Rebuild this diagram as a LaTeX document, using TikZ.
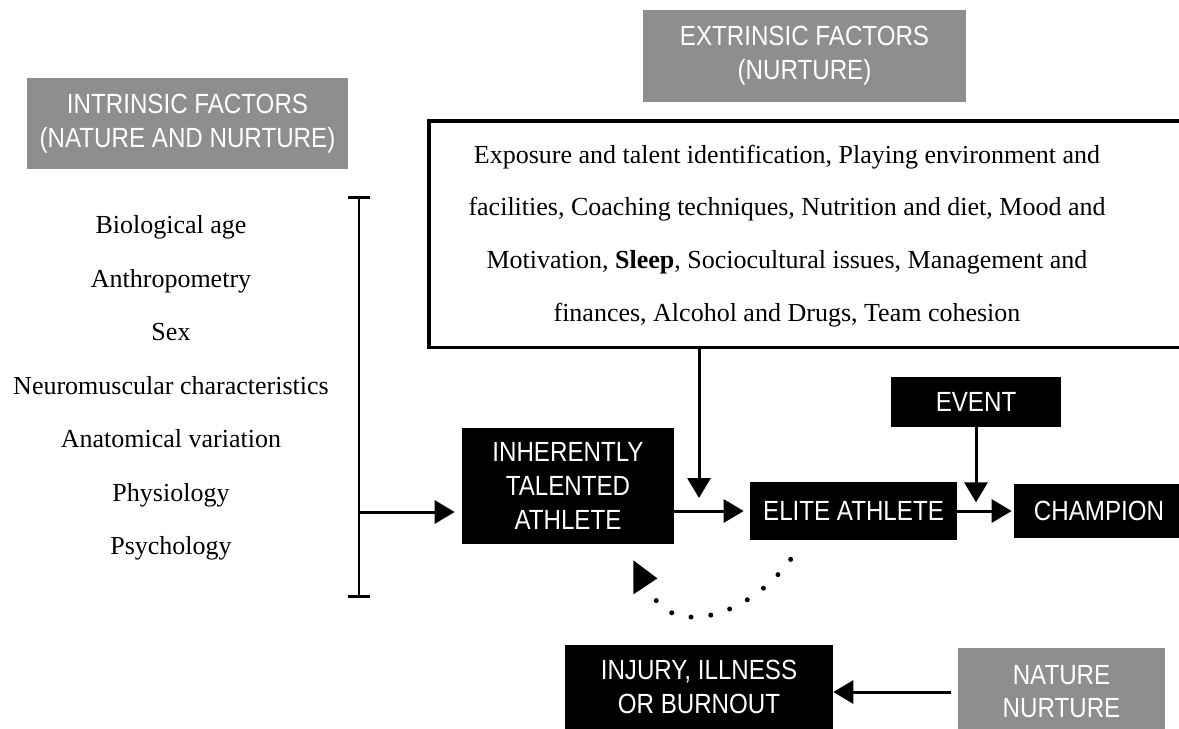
\documentclass[tikz,border=0pt]{standalone}
\usepackage{fontspec}
\setmainfont{Liberation Serif}
\newfontfamily\boxfont[FakeStretch=0.87]{Liberation Sans}
\usetikzlibrary{arrows.meta,positioning}
\definecolor{boxgray}{HTML}{8E8E8E}
\tikzset{
	graybox/.style={fill=boxgray,text=white,align=center,inner sep=0pt,font=\boxfont\fontsize{15.8}{19.2}\selectfont},
	blackbox/.style={fill=black,text=white,align=center,inner sep=0pt,font=\boxfont\fontsize{15.8}{19.2}\selectfont},
	arr/.style={-{Triangle[length=0.4cm,width=0.46cm]},line width=1.7pt},
	factortext/.style={align=center,font=\fontsize{14.8}{30.5}\selectfont}
}
\begin{document}
\begin{tikzpicture}[x=0.02cm,y=-0.02cm]
	\useasboundingbox (0,0) rectangle (1179,728);
	\clip (0,0) rectangle (1179,728);
	% headings
	\node[graybox,minimum width=6.46cm,minimum height=1.84cm] (extrinsic) at (804.5,56) {EXTRINSIC FACTORS\\(NURTURE)};
	\node[graybox,minimum width=6.42cm,minimum height=1.82cm] (intrinsic) at (187.5,123.5) {INTRINSIC FACTORS\\(NATURE AND NURTURE)};
	% extrinsic factors
	\node[draw,line width=2pt,inner sep=0pt,anchor=north west,minimum width=15.66cm,minimum height=4.54cm] (nurturebox) at (427,119) {};
	\node[factortext,font=\fontsize{14.8}{30.1}\selectfont] (nurturetext) at (787,236) {Exposure and talent identification, Playing environment and\\
		facilities, Coaching techniques, Nutrition and diet, Mood and\\
		Motivation, \textbf{Sleep}, Sociocultural issues, Management and\\
		finances, Alcohol and Drugs, Team cohesion};
	% intrinsic factors
	\node[factortext] (intrlist) at (171,388) {Biological age\\Anthropometry\\Sex\\Neuromuscular characteristics\\Anatomical variation\\Physiology\\Psychology};
	\draw[line width=1.7pt] (348,197) -- (370,197) (359,197) -- (359,596) (348,596) -- (370,596);
	\coordinate (bracket) at (359,512);
	% pathway
	\node[blackbox,minimum width=4.24cm,minimum height=2.32cm] (talented) at (568,486) {INHERENTLY\\TALENTED\\ATHLETE};
	\node[blackbox,minimum width=4.14cm,minimum height=1.16cm] (elite) at (853.5,511) {ELITE ATHLETE};
	\node[blackbox,minimum width=3.4cm,minimum height=1.0cm] (event) at (976,402) {EVENT};
	\node[blackbox,minimum width=3.4cm,minimum height=1.08cm] (champion) at (1099,511) {CHAMPION};
	\node[blackbox,minimum width=5.36cm,minimum height=1.68cm] (injury) at (699,687) {INJURY, ILLNESS\\OR BURNOUT};
	\node[graybox,minimum width=4.14cm,minimum height=1.74cm] (nature) at (1061.5,691.5) {NATURE\\NURTURE};
	\draw[arr] (bracket) -- ([xshift=-0.14cm]bracket -| talented.west);
	\draw[arr] (talented.east |- elite) -- ([xshift=-0.12cm]elite.west);
	\draw[arr] (nurturebox.south -| 699,0) -- (699,498);
	\draw[arr] (event.south) -- ++(0,75);
	\draw[arr] (elite.east) -- ([xshift=-0.04cm]champion.west);
	\draw[arr] ([xshift=-0.14cm]nature.west |- 0,692) -- (injury.east |- 0,692);
	% setback loop
	\draw[line width=0.1cm,line cap=round,dash pattern=on 0pt off 0.398cm] ([shift={(41,19)}]elite.south west) .. controls (750,615) and (680,635) .. (655,599);
	\fill ([shift={(-41,16)}]talented.south east) -- ([shift={(-41,50)}]talented.south east) -- ([shift={(-17,34)}]talented.south east) -- cycle;
\end{tikzpicture}
\end{document}
